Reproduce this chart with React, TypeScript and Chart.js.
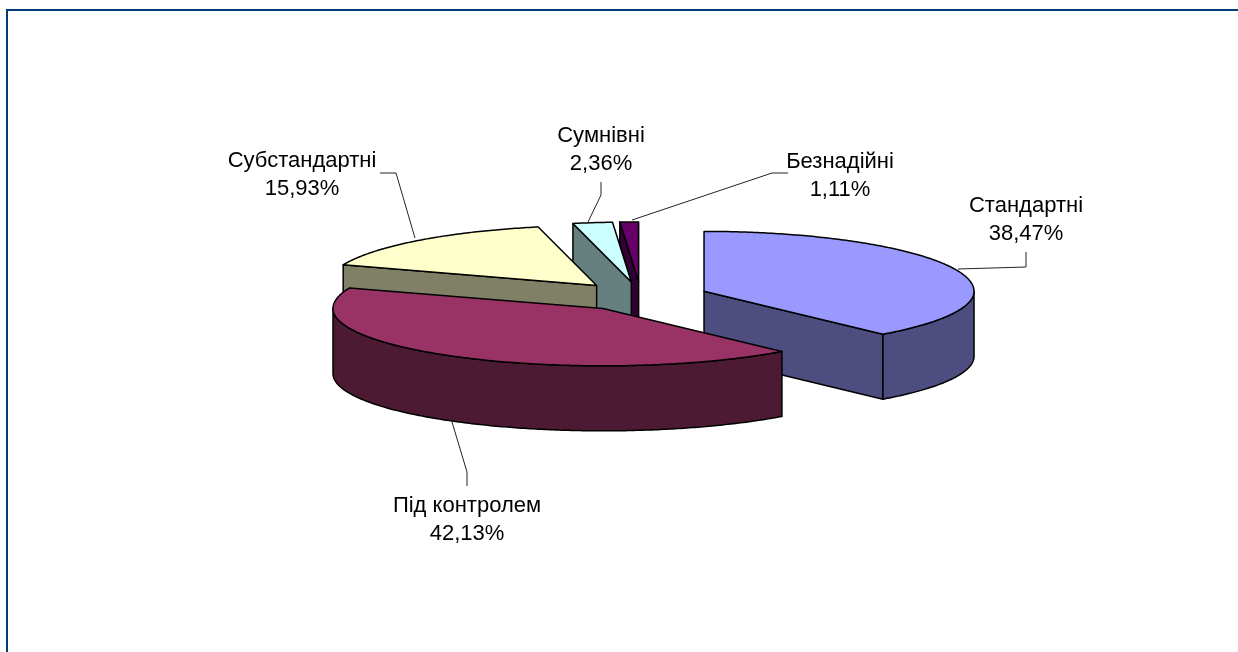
import React, { useEffect, useRef } from "react";
import { Chart, registerables } from "chart.js";

Chart.register(...registerables);

const categories = ["Стандартні", "Під контролем", "Субстандартні", "Сумнівні", "Безнадійні"];
const shares = [38.47, 42.13, 15.93, 2.36, 1.11];
const percentLabels = ["38,47%", "42,13%", "15,93%", "2,36%", "1,11%"];
const topColors = ["#9999FF", "#993366", "#FFFFCC", "#CCFFFF", "#660066"];
const sideColors = ["#4D4D80", "#4D1A33", "#808066", "#668080", "#330033"];

// layout of the pseudo-3D drawing
const WIDTH = 1238;
const HEIGHT = 652;
const RADIUS = 270;
const EXPLODE = 67.4;
const SQUASH_BACK = 0.222; // far half of the disc
const SQUASH_FRONT = 0.212; // near half of the disc
const SQUASH_MOVE = 0.217;
const DEPTH = 65;
const paintOrder = [4, 3, 2, 0, 1];
const FONT = '22px "Liberation Sans", Arial, sans-serif';
const labelCenters = [
  [1026, 206],
  [467, 506],
  [302, 161],
  [601, 136],
  [840, 162],
];
const leaders = [
  [[1026, 252], [1026, 267], [958, 269]],
  [[452, 422], [467, 472], [467, 486]],
  [[380, 173], [396, 173], [415, 238]],
  [[601, 182], [601, 195], [588, 222]],
  [[788, 173], [772, 173], [632, 220]],
];
const LINE_GAP = 28;

const HALF_PI = Math.PI / 2;

const pie3d = {
  id: "pie3d",
  beforeDatasetDraw(chart: any) {
    const ctx = chart.ctx as CanvasRenderingContext2D;
    const arcs = chart.getDatasetMeta(0).data;
    ctx.lineWidth = 1.5;
    ctx.strokeStyle = "#000";
    ctx.lineJoin = "round";
    for (const i of paintOrder) {
      const el = arcs[i];
      const a = el.startAngle;
      const b = el.endAngle;
      const mid = (a + b) / 2;
      const cx = el.x + Math.cos(mid) * EXPLODE;
      const cy = el.y + Math.sin(mid) * EXPLODE * SQUASH_MOVE;
      const r = el.outerRadius;
      const px = (t: number) => cx + Math.cos(t) * r;
      const py = (t: number) => {
        const s = Math.sin(t);
        return cy + s * r * (s < 0 ? SQUASH_BACK : SQUASH_FRONT);
      };
      const rim = (from: number, to: number, drop: number) => {
        const n = Math.max(8, Math.ceil(Math.abs(to - from) * 90));
        for (let k = 0; k <= n; k++) {
          const t = from + ((to - from) * k) / n;
          ctx.lineTo(px(t), py(t) + drop);
        }
      };
      const face = (t: number) => {
        ctx.beginPath();
        ctx.moveTo(cx, cy);
        ctx.lineTo(px(t), py(t));
        ctx.lineTo(px(t), py(t) + DEPTH);
        ctx.lineTo(cx, cy + DEPTH);
        ctx.closePath();
        ctx.fillStyle = sideColors[i];
        ctx.fill();
        ctx.stroke();
      };
      // radial faces turned toward the viewer
      if (Math.sin(a + HALF_PI) < -1e-6) face(a);
      if (Math.sin(b + HALF_PI) > 1e-6) face(b);
      // outer wall: canvas angles 0..PI are the near half
      const wallStart = Math.max(a, 0);
      const wallEnd = Math.min(b, Math.PI);
      if (wallEnd > wallStart) {
        ctx.beginPath();
        rim(wallStart, wallEnd, 0);
        rim(wallEnd, wallStart, DEPTH);
        ctx.closePath();
        ctx.fillStyle = sideColors[i];
        ctx.fill();
        ctx.stroke();
      }
      // top: the library's own arc, foreshortened separately on each side of its centre
      const seam = Math.round(cy);
      [
        [SQUASH_BACK, seam - 400, 401],
        [SQUASH_FRONT, seam, 400],
      ].forEach(([k, clipY, clipH]) => {
        ctx.save();
        ctx.beginPath();
        ctx.rect(0, clipY, WIDTH, clipH);
        ctx.clip();
        ctx.translate(cx, cy);
        ctx.scale(1, k);
        ctx.translate(-el.x, -el.y);
        el.draw(ctx);
        ctx.restore();
      });
      ctx.beginPath();
      ctx.moveTo(cx, cy);
      rim(a, b, 0);
      ctx.closePath();
      ctx.stroke();
    }
    return false;
  },
  afterDraw(chart: any) {
    const ctx = chart.ctx as CanvasRenderingContext2D;
    ctx.save();
    ctx.strokeStyle = "#222";
    ctx.lineWidth = 1;
    for (const pts of leaders) {
      ctx.beginPath();
      pts.forEach(([x, y], k) => (k ? ctx.lineTo(x, y) : ctx.moveTo(x, y)));
      ctx.stroke();
    }
    ctx.fillStyle = "#000";
    ctx.font = FONT;
    ctx.textAlign = "center";
    ctx.textBaseline = "middle";
    categories.forEach((name, i) => {
      const [x, y] = labelCenters[i];
      ctx.fillText(name, x, y);
      ctx.fillText(percentLabels[i], x, y + LINE_GAP);
    });
    ctx.restore();
  },
};

export default function App() {
  const ref = useRef<HTMLCanvasElement>(null);
  useEffect(() => {
    document.body.style.margin = "0";
    document.body.style.background = "#fff";
    const chart = new Chart(ref.current!, {
      type: "pie",
      data: {
        labels: categories,
        datasets: [
          {
            data: shares,
            backgroundColor: topColors,
            borderWidth: 0,
            hoverOffset: 0,
          } as any,
        ],
      },
      options: {
        animation: false,
        responsive: false,
        events: [],
        radius: RADIUS,
        layout: { padding: { left: 44, bottom: 59 } },
        plugins: { legend: { display: false }, tooltip: { enabled: false } },
      } as any,
      plugins: [pie3d as any],
    });
    return () => chart.destroy();
  }, []);
  return (
    <div style={{ position: "relative", width: WIDTH, height: HEIGHT, overflow: "hidden" }}>
      <canvas ref={ref} width={WIDTH} height={HEIGHT} style={{ display: "block" }} />
      <div
        style={{
          position: "absolute",
          left: 6,
          top: 9,
          right: -10,
          bottom: -10,
          border: "2px solid #003D7A",
        }}
      />
    </div>
  );
}
